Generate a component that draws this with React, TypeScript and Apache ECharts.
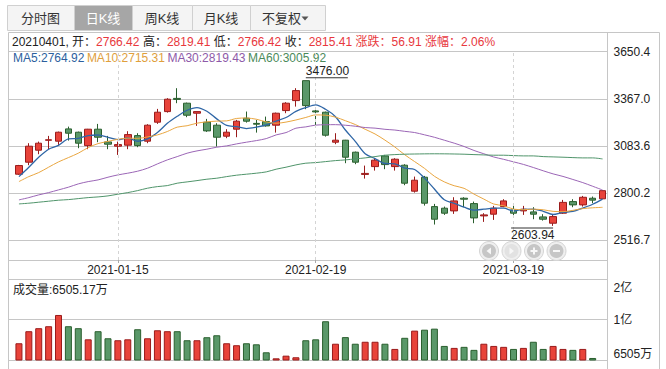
import React, { useEffect, useRef } from 'react';
import * as echarts from 'echarts';

const dates = [
  '2020-12-31', '2021-01-04', '2021-01-05', '2021-01-06', '2021-01-07', '2021-01-08', '2021-01-11', '2021-01-12', '2021-01-13', '2021-01-14',
  '2021-01-15', '2021-01-18', '2021-01-19', '2021-01-20', '2021-01-21', '2021-01-22', '2021-01-25', '2021-01-26', '2021-01-27', '2021-01-28',
  '2021-01-29', '2021-02-01', '2021-02-02', '2021-02-03', '2021-02-04', '2021-02-05', '2021-02-08', '2021-02-09', '2021-02-10', '2021-02-18',
  '2021-02-19', '2021-02-22', '2021-02-23', '2021-02-24', '2021-02-25', '2021-02-26', '2021-03-01', '2021-03-02', '2021-03-03', '2021-03-04',
  '2021-03-05', '2021-03-08', '2021-03-09', '2021-03-10', '2021-03-11', '2021-03-12', '2021-03-15', '2021-03-16', '2021-03-17', '2021-03-18',
  '2021-03-19', '2021-03-22', '2021-03-23', '2021-03-24', '2021-03-25', '2021-03-26', '2021-03-29', '2021-03-30', '2021-03-31', '2021-04-01',
];

const opens = [
  2914.3, 2986.3, 3058.4, 3118, 3112.4, 3186.3, 3166.4, 3086, 3184.5, 3108.2,
  3082.4, 3088.4, 3146, 3112.4, 3226.5, 3290.1, 3369.4, 3340.6, 3280.5, 3226.5,
  3208.5, 3142.4, 3184.5, 3250.5, 3219.3, 3230.1, 3208.5, 3296.2, 3356.2, 3476.0,
  3294.3, 3286.5, 3106.4, 3118.4, 3046.4, 2913, 2959.9, 3024.1, 2959.9, 2968.3,
  2812.2, 2896.2, 2719.7, 2710.1, 2693.9, 2770.1, 2737.7, 2663.9, 2674.1, 2719.7,
  2699.9, 2693.9, 2687.9, 2657.8, 2620, 2680.1, 2749.7, 2729.9, 2770, 2766.42,
];
const closes = [
  2966.26, 3082.4, 3100.4, 3121, 3166.4, 3160.4, 3100.4, 3184.5, 3136.4, 3094.4,
  3092, 3152, 3086, 3208.5, 3286.5, 3364.6, 3363.4, 3268.5, 3290.1, 3174.3,
  3136.4, 3166.4, 3232.5, 3232.5, 3214.5, 3204.3, 3280.5, 3340.6, 3416.2, 3326.2,
  3288.3, 3148.4, 3118.4, 3016.3, 2986.3, 2919, 2998.3, 2971.9, 3004.3, 2860.2,
  2878.2, 2740.1, 2644, 2680.1, 2753.9, 2764.1, 2651.8, 2669.9, 2710.1, 2753.9,
  2680.1, 2704.1, 2674.1, 2644, 2659.6, 2745, 2730, 2775.7, 2758.5, 2815.41,
];
const lows = [
  2910, 2968.3, 3034.3, 3064.4, 3090.2, 3116, 3070.4, 3064.4, 3106.4, 3064.4,
  3030.1, 3064.4, 3076.4, 3100.4, 3216.3, 3284.1, 3340.6, 3256.5, 3204.3, 3168.3,
  3080, 3130.4, 3136.4, 3224, 3164, 3200, 3164, 3280.5, 3320.2, 3304.6,
  3208.5, 3140, 3094.4, 2980.3, 2974.3, 2887.8, 2935.9, 2944.3, 2935.9, 2848.2,
  2803.8, 2725.7, 2612, 2669.9, 2675.9, 2716.1, 2620, 2627.8, 2639.8, 2716.1,
  2656, 2669.9, 2644, 2635.6, 2603.94, 2675.9, 2716.1, 2719.7, 2740, 2766.42,
];
const highs = [
  2970, 3100.4, 3110, 3144.2, 3170, 3200, 3170, 3186.3, 3216.3, 3144.2,
  3110, 3172.4, 3160.4, 3214.5, 3306.4, 3370.6, 3430.7, 3344.2, 3290.1, 3246.3,
  3220.5, 3184.5, 3240.3, 3290.5, 3240.3, 3260.1, 3284.1, 3346.6, 3430.7, 3476.0,
  3310.5, 3290.1, 3160.4, 3120.2, 3050, 2965.9, 3010.3, 3030.1, 3010.3, 2974.3,
  2899.8, 2904, 2735.9, 2719.7, 2776.1, 2776.1, 2749.7, 2680.1, 2723.9, 2764.1,
  2729.9, 2723.9, 2716.1, 2674.1, 2674.1, 2759.9, 2764.1, 2783.9, 2780, 2819.41,
];

// volume, in 万
const volumes = [
  7950, 8990, 9250, 9420, 10390, 9420, 9250, 8290, 8990, 8380,
  8210, 8290, 9160, 8380, 9070, 8990, 8990, 8210, 8210, 8470,
  8640, 7950, 7780, 7950, 7860, 7170, 6650, 6880, 6740, 8210,
  8290, 9850, 7910, 8480, 7910, 8080, 8080, 7910, 7460, 8420,
  9040, 9120, 9210, 7720, 7550, 7640, 7380, 7910, 7720, 7640,
  7460, 7550, 8080, 7460, 7720, 7460, 7380, 7460, 6680, 6505.17,
];

const ma5 = [
  2899.8, 2956.3, 3016.3, 3064.4, 3087.3, 3126.1, 3129.7, 3146.5, 3149.6, 3135.2,
  3121.5, 3131.9, 3112.2, 3126.6, 3165.0, 3219.5, 3261.8, 3298.3, 3314.6, 3292.2,
  3246.5, 3207.1, 3199.9, 3188.4, 3196.5, 3210.0, 3232.9, 3254.5, 3291.2, 3313.6,
  3330.4, 3303.9, 3259.5, 3179.5, 3111.5, 3037.7, 3007.7, 2978.4, 2976.0, 2950.7,
  2942.6, 2890.9, 2825.4, 2760.5, 2739.3, 2716.4, 2698.8, 2704.0, 2710.0, 2710.0,
  2693.2, 2703.6, 2704.5, 2691.2, 2672.4, 2685.4, 2690.5, 2710.9, 2733.8, 2764.92,
];
const ma10 = [
  2869.8, 2899.8, 2923.9, 2956.3, 2988.1, 3013.9, 3040.4, 3074.0, 3098.0, 3111.3,
  3123.8, 3130.8, 3129.4, 3138.1, 3150.1, 3170.5, 3196.8, 3205.2, 3220.6, 3228.6,
  3233.0, 3234.5, 3249.1, 3251.5, 3244.3, 3228.3, 3220.0, 3227.2, 3239.8, 3255.0,
  3270.2, 3268.4, 3257.0, 3235.4, 3212.6, 3184.0, 3155.8, 3118.9, 3077.7, 3031.1,
  2990.1, 2949.3, 2901.9, 2868.2, 2845.0, 2829.5, 2794.9, 2764.7, 2735.2, 2724.6,
  2704.8, 2701.2, 2704.2, 2700.6, 2691.2, 2689.3, 2697.1, 2707.7, 2712.5, 2715.31,
];
const ma30 = [
  2759.9, 2773.7, 2790.0, 2803.8, 2820.0, 2836.2, 2856.0, 2869.8, 2880.0, 2896.2,
  2910.0, 2920.3, 2932.3, 2950.3, 2976.1, 3000.1, 3019.9, 3040.4, 3054.2, 3064.4,
  3076.4, 3084.2, 3096.2, 3106.4, 3116.0, 3128.0, 3150.2, 3164.1, 3190.5, 3198.3,
  3209.0, 3211.2, 3211.8, 3208.3, 3202.3, 3194.3, 3190.9, 3183.8, 3179.4, 3171.6,
  3164.5, 3150.7, 3136.0, 3118.4, 3100.6, 3080.6, 3056.9, 3036.9, 3017.6, 3003.6,
  2988.4, 2973.0, 2954.4, 2934.7, 2916.2, 2900.9, 2882.6, 2863.8, 2841.8, 2819.43,
];
const ma60 = [
  2735.9, 2740.1, 2746.1, 2752.1, 2758.1, 2761.7, 2767.7, 2773.7, 2777.9, 2784.0,
  2794.2, 2803.8, 2815.8, 2830.2, 2839.8, 2845.8, 2860.2, 2868.0, 2875.8, 2884.2,
  2890.2, 2899.8, 2908.3, 2914.3, 2920.3, 2928.1, 2944.3, 2956.3, 2970.1, 2980.3,
  2983.9, 2989.9, 2995.9, 3000.1, 3006.1, 3012.1, 3019.9, 3028.3, 3031.9, 3034.3,
  3035.5, 3036.4, 3036.8, 3036.5, 3035.6, 3034.3, 3031.9, 3030.1, 3028.3, 3028.3,
  3025.9, 3024.1, 3024.1, 3019.9, 3018.1, 3016.3, 3013.9, 3012.1, 3012.1, 3005.92,
];

const maNames = ['MA5', 'MA10', 'MA30', 'MA60'];
const maLast = ['2764.92', '2715.31', '2819.43', '3005.92'];
const maLineColors = ['#2f66a6', '#e9a640', '#9b66b6', '#4f946a'];
const maTextColors = ['#2c5f9e', '#e0a03c', '#8e5aa8', '#4a8a5a'];

const priceTickLabels = ['2516.7', '2800.2', '3083.6', '3367.0', '3650.4'];
const priceTickStart = 2516.74;
const priceTickStep = 283.42;
const volTickLabels = ['6505万', '1亿', '2亿'];
const volAxisMin = 6505.17;
const volAxisMid = 10000;
const dateLabels = ['2021-01-15', '2021-02-19', '2021-03-19'];

const tabs = ['分时图', '日K线', '周K线', '月K线', '不复权'];
const tabEdges = [7, 74, 132, 192, 250, 325];
const activeTab = 1;
const infoDate = '20210401';
const infoLabels = ['开', '高', '低', '收', '涨跌', '涨幅'];
const infoValues = ['2766.42', '2819.41', '2766.42', '2815.41', '56.91', '2.06%'];
const volumeTitle = '成交量:6505.17万';
const highMark = { date: '2021-02-18', value: 3476.0, text: '3476.00' };
const lowMark = { date: '2021-03-25', value: 2603.94, text: '2603.94' };

const FONT = "'Liberation Sans', 'Noto Sans CJK SC', sans-serif";
const LINE = '#c6c6c6';
const UP_FILL = '#e8433a';
const UP_BORDER = '#9a1b1b';
const DOWN_FILL = '#5a9869';
const DOWN_BORDER = '#2a5f2e';
const RED_TEXT = '#e8383d';

// layout (pixels)
const W = 666;
const H = 369;
const PLOT_RIGHT = 607.5;
const FRAME_LEFT = 8.5;
const DATA_LEFT = 14;
const PRICE_TOP = 51.6;
const PRICE_BOTTOM = 260;
const PRICE_LABEL_BOTTOM = 240.4;
const VOL_TOP = 279;
const VOL_BOTTOM = 360;

export default function App() {
  const ref = useRef<HTMLDivElement>(null);

  useEffect(() => {
    if (!ref.current) return;
    const chart = echarts.init(ref.current, undefined, { renderer: 'svg' });

    const pxPerUnit = (PRICE_LABEL_BOTTOM - PRICE_TOP) / (priceTickStep * (priceTickLabels.length - 1));
    const priceMax = priceTickStart + priceTickStep * (priceTickLabels.length - 1);
    const priceMin = priceMax - (PRICE_BOTTOM - PRICE_TOP) / pxPerUnit;
    const volMax = volAxisMid * 2 - volAxisMin;

    const labelIdx = dateLabels.map((d) => dates.indexOf(d));
    const showIdx = (i: number) => labelIdx.includes(i);

    const rightMargin = W - PLOT_RIGHT;

    // ---------- graphic ----------
    const graphic: any[] = [];
    tabs.forEach((t, i) => {
      const x0 = tabEdges[i];
      const x1 = tabEdges[i + 1];
      graphic.push({
        type: 'rect',
        shape: { x: x0 + 0.5, y: 5.5, width: x1 - x0, height: 25 },
        style: { fill: i === activeTab ? '#a6a6a6' : '#f4f4f4', stroke: '#d0d0d0', lineWidth: 1 },
      });
      const isDrop = i === tabs.length - 1;
      graphic.push({
        type: 'text',
        x: isDrop ? (x0 + x1) / 2 - 6 : (x0 + x1) / 2,
        y: 18.5,
        style: {
          text: t,
          fill: i === activeTab ? '#ffffff' : '#333333',
          font: `13px ${FONT}`,
          align: 'center',
          verticalAlign: 'middle',
        },
      });
      if (isDrop) {
        graphic.push({
          type: 'polygon',
          shape: { points: [[301.5, 16.5], [308.5, 16.5], [305, 20.5]] },
          style: { fill: '#555' },
        });
      }
    });

    const frameLines = [
      [FRAME_LEFT, 32.5, FRAME_LEFT, H],
      [FRAME_LEFT, 32.5, 659.5, 32.5],
      [659.5, 32.5, 659.5, H],
      [PLOT_RIGHT, 32.5, PLOT_RIGHT, H],
      [FRAME_LEFT, PRICE_BOTTOM + 0.5, PLOT_RIGHT, PRICE_BOTTOM + 0.5],
    ];
    frameLines.forEach(([x1, y1, x2, y2]) =>
      graphic.push({
        type: 'line',
        shape: { x1, y1, x2, y2 },
        style: { stroke: LINE, lineWidth: 1 },
        silent: true,
      })
    );

    // info row
    let infoText = `{k|${infoDate}, ${infoLabels[0]}：}{r|${infoValues[0]}}`;
    for (let i = 1; i < infoLabels.length; i++) {
      const lab = i >= 4 ? 'rs' : 'ks';
      infoText += `{${lab}|${infoLabels[i]}：}{r|${infoValues[i]}}`;
    }
    graphic.push({
      type: 'text',
      x: 12,
      y: 42,
      style: {
        text: infoText,
        font: `12px ${FONT}`,
        verticalAlign: 'middle',
        rich: {
          k: { fill: '#222', font: `12px ${FONT}` },
          ks: { fill: '#222', font: `12px ${FONT}`, padding: [0, 0, 0, 3.5] },
          r: { fill: RED_TEXT, font: `12px ${FONT}` },
          rs: { fill: RED_TEXT, font: `12px ${FONT}`, padding: [0, 0, 0, 3.5] },
        },
      },
    });

    // MA legend
    const maRich: any = {};
    let maText = '';
    maNames.forEach((n, i) => {
      maRich['m' + i] = { fill: maTextColors[i], font: `12px ${FONT}`, padding: [0, 0, 0, i === 0 ? 0 : 2.5] };
      maText += `{m${i}|${n}:${maLast[i]}}`;
    });
    graphic.push({
      type: 'text',
      x: 13,
      y: 58,
      style: { text: maText, font: `12px ${FONT}`, verticalAlign: 'middle', rich: maRich },
    });

    graphic.push({
      type: 'text',
      x: 13,
      y: 289.5,
      style: { text: volumeTitle, fill: '#222', font: `12px ${FONT}`, verticalAlign: 'middle' },
    });

    // navigation buttons
    const navX = [489, 511.5, 534, 556.5];
    const navY = 251;
    navX.forEach((cx, i) => {
      const disabled = i === 1;
      graphic.push({
        type: 'circle',
        z: 100,
        shape: { cx, cy: navY, r: 9.5 },
        style: { fill: '#efefef', stroke: '#d4d4d4', lineWidth: 1 },
      });
      graphic.push({
        type: 'circle',
        z: 101,
        shape: { cx, cy: navY, r: 7 },
        style: { fill: disabled ? '#e2e2e2' : '#c6c6c6' },
      });
      const ic = '#f7f7f7';
      if (i === 0) {
        graphic.push({ type: 'polygon', z: 102, shape: { points: [[cx + 2, navY - 3.5], [cx + 2, navY + 3.5], [cx - 2.5, navY]] }, style: { fill: ic } });
      } else if (i === 1) {
        graphic.push({ type: 'polygon', z: 102, shape: { points: [[cx - 2, navY - 3.5], [cx - 2, navY + 3.5], [cx + 2.5, navY]] }, style: { fill: ic } });
      } else if (i === 2) {
        graphic.push({ type: 'rect', z: 102, shape: { x: cx - 3.5, y: navY - 1, width: 7, height: 2 }, style: { fill: ic } });
        graphic.push({ type: 'rect', z: 102, shape: { x: cx - 1, y: navY - 3.5, width: 2, height: 7 }, style: { fill: ic } });
      } else {
        graphic.push({ type: 'rect', z: 102, shape: { x: cx - 3.5, y: navY - 1, width: 7, height: 2 }, style: { fill: ic } });
      }
    });

    const markLabel = (text: string, pos: number[]) => ({
      show: true,
      formatter: text,
      position: pos,
      align: 'left',
      verticalAlign: 'top',
      color: '#222',
      fontSize: 12,
      fontFamily: FONT,
    });

    const option: any = {
      animation: false,
      backgroundColor: '#ffffff',
      textStyle: { fontFamily: FONT },
      graphic,
      grid: [
        { left: DATA_LEFT, right: rightMargin, top: PRICE_TOP, bottom: H - PRICE_BOTTOM },
        { left: DATA_LEFT, right: rightMargin, top: VOL_TOP, bottom: H - VOL_BOTTOM },
        { left: FRAME_LEFT + 0.5, right: rightMargin, top: PRICE_TOP, bottom: H - PRICE_LABEL_BOTTOM },
        { left: FRAME_LEFT + 0.5, right: rightMargin, top: VOL_TOP, bottom: H - VOL_BOTTOM },
      ],
      xAxis: [
        {
          type: 'category',
          gridIndex: 0,
          data: dates,
          boundaryGap: true,
          axisLine: { show: false },
          axisTick: { show: true, alignWithLabel: true, length: 3, interval: showIdx, lineStyle: { color: '#aaa' } },
          axisLabel: { interval: showIdx, color: '#222', fontSize: 12, fontFamily: FONT, margin: 4 },
          splitLine: { show: false },
        },
        { type: 'category', gridIndex: 1, data: dates, boundaryGap: true, show: false },
        { type: 'value', gridIndex: 2, min: 0, max: 1, show: false },
        { type: 'value', gridIndex: 3, min: 0, max: 1, show: false },
      ],
      yAxis: [
        { type: 'value', gridIndex: 0, min: priceMin, max: priceMax, show: false, splitLine: { show: false } },
        { type: 'value', gridIndex: 1, min: volAxisMin, max: volMax, show: false, splitLine: { show: false } },
        {
          type: 'value',
          gridIndex: 2,
          position: 'right',
          min: 0,
          max: priceTickLabels.length - 1,
          interval: 1,
          axisLine: { show: false },
          axisTick: { show: true, length: 5, lineStyle: { color: LINE } },
          axisLabel: {
            margin: 6,
            color: '#222',
            fontSize: 12,
            fontFamily: FONT,
            showMinLabel: true,
            showMaxLabel: true,
            formatter: (v: number) => (Number.isInteger(v) ? priceTickLabels[v] : ''),
          },
          splitLine: { show: true, lineStyle: { color: LINE, width: 1 } },
        },
        {
          type: 'value',
          gridIndex: 3,
          position: 'right',
          min: 0,
          max: volTickLabels.length - 1,
          interval: 1,
          axisLine: { show: false },
          axisTick: { show: false },
          axisLabel: {
            margin: 6,
            color: '#222',
            fontSize: 12,
            fontFamily: FONT,
            showMinLabel: true,
            showMaxLabel: true,
            formatter: (v: number) => {
              if (v === 0) return `{b|${volTickLabels[0]}}`;
              if (v === volTickLabels.length - 1) return `{t|${volTickLabels[v]}}`;
              return `{m|${volTickLabels[v]}}`;
            },
            rich: {
              t: { padding: [18, 0, 0, 0], fontSize: 12, color: '#222', fontFamily: FONT },
              m: { fontSize: 12, color: '#222', fontFamily: FONT },
              b: { padding: [0, 0, 12, 0], fontSize: 12, color: '#222', fontFamily: FONT },
            },
          },
          splitLine: { show: true, lineStyle: { color: LINE, width: 1 } },
        },
      ],
      series: [
        {
          type: 'candlestick',
          name: 'K',
          xAxisIndex: 0,
          yAxisIndex: 0,
          barWidth: 7,
          data: dates.map((_, i) => [opens[i], closes[i], lows[i], highs[i]]),
          itemStyle: {
            color: UP_FILL,
            color0: DOWN_FILL,
            borderColor: UP_BORDER,
            borderColor0: DOWN_BORDER,
            borderWidth: 1,
          },
          markLine: {
            silent: true,
            symbol: ['none', 'none'],
            label: { show: false },
            lineStyle: { color: '#d4d4d4', type: [3, 3], width: 1 },
            data: dateLabels.map((d) => ({ xAxis: d })),
          },
          markPoint: {
            silent: true,
            data: [
              {
                coord: [highMark.date, highMark.value],
                symbol: 'rect',
                symbolSize: [42, 1],
                symbolOffset: [21, -3],
                itemStyle: { color: '#333' },
                label: markLabel(highMark.text, [0, -12]),
              },
              {
                coord: [lowMark.date, lowMark.value],
                symbol: 'rect',
                symbolSize: [42, 1],
                symbolOffset: [-21, 2],
                itemStyle: { color: '#333' },
                label: markLabel(lowMark.text, [0, 2]),
              },
            ],
          },
        },
        ...[ma5, ma10, ma30, ma60].map((d, i) => ({
          type: 'line',
          name: maNames[i],
          xAxisIndex: 0,
          yAxisIndex: 0,
          data: d,
          showSymbol: false,
          smooth: 0.3,
          lineStyle: { color: maLineColors[i], width: i === 0 ? 1.3 : 1 },
          z: 3,
        })),
        {
          type: 'bar',
          name: 'VOL',
          xAxisIndex: 1,
          yAxisIndex: 1,
          barWidth: 7,
          data: volumes.map((v, i) => {
            const up = closes[i] >= opens[i];
            return {
              value: v,
              itemStyle: {
                color: up ? UP_FILL : DOWN_FILL,
                borderColor: up ? UP_BORDER : DOWN_BORDER,
                borderWidth: 1,
              },
            };
          }),
        },
      ],
    };

    chart.setOption(option);
    return () => chart.dispose();
  }, []);

  return (
    <div
      ref={ref}
      style={{ position: 'fixed', left: 0, top: 0, width: W, height: H, background: '#fff' }}
    />
  );
}
